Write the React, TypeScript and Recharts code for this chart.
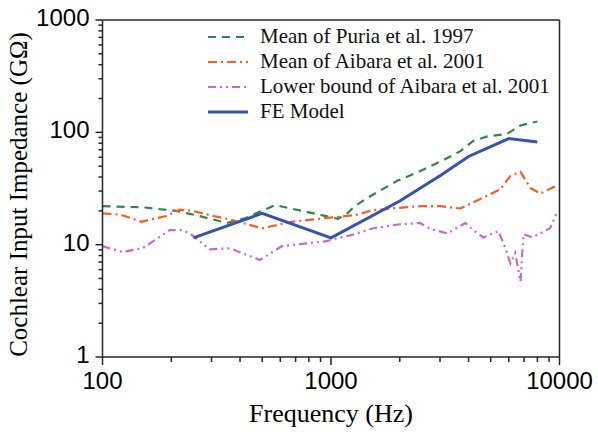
import { LineChart, Line, XAxis, YAxis, ReferenceLine, Legend } from 'recharts';

// frequency (Hz) / impedance (GΩ)
const puriaFreq = [100, 150, 210, 265, 350, 420, 570, 790, 1070, 1170, 1270, 1440, 1950, 2450, 3230, 3680, 4200, 4830, 5900, 6750, 8000];
const puriaVal = [22, 21.5, 20, 18, 15.6, 17.2, 22.5, 19.5, 17, 18.7, 22, 26, 37, 45, 59, 68, 84, 92, 97, 115, 125];

const aibaraFreq = [100, 120, 148, 190, 218, 248, 305, 350, 500, 675, 940, 1270, 1530, 2150, 2530, 3000, 3680, 4500, 5500, 6100, 6750, 7450, 8250, 9400, 9700];
const aibaraVal = [19, 18.5, 16, 18, 20.5, 20, 18, 17, 14, 16, 17.2, 18.3, 20.3, 21.6, 22.1, 22, 21, 25.5, 31, 41, 44.5, 32, 28.5, 32.5, 33];

const lowerFreq = [100, 122, 150, 197, 224, 241, 294, 361, 488, 610, 940, 1270, 1530, 2000, 2450, 2720, 3230, 3870, 4370, 4650, 5400, 5800, 6100, 6400, 6750, 6950, 7600, 9100, 9700];
const lowerVal = [9.7, 8.6, 9.3, 13.5, 13.5, 12.6, 9.1, 9.3, 7.3, 9.7, 10.7, 12.4, 14, 15.2, 15.6, 13.8, 12.6, 15.6, 12.6, 11.6, 13.2, 9.3, 6.8, 8.4, 4.7, 12.4, 11.6, 14, 19];

const feFreq = [250, 500, 1000, 2000, 3000, 4000, 6000, 8000];
const feVal = [11.5, 19, 11.5, 24.5, 41, 61, 88, 82];

const xTicks = [100, 200, 300, 400, 500, 600, 700, 800, 900, 1000, 2000, 3000, 4000, 5000, 6000, 7000, 8000, 9000, 10000];
const xMajor = [100, 1000, 10000];
const yTicks = [1, 2, 3, 4, 5, 6, 7, 8, 9, 10, 20, 30, 40, 50, 60, 70, 80, 90, 100, 200, 300, 400, 500, 600, 700, 800, 900, 1000];
const yMajor = [1, 10, 100, 1000];

const seriesNames = ['Mean of Puria et al. 1997', 'Mean of Aibara et al. 2001', 'Lower bound of Aibara et al. 2001', 'FE Model'];

const toRows = (f: number[], v: number[]) => f.map((x, i) => ({ f: x, v: v[i] }));

const styles = [
  { color: '#2b8a45', dash: '8 6', width: 2.2 },
  { color: '#ff5b22', dash: '9 4 2 4', width: 2.2 },
  { color: '#c96ac9', dash: '8 4 2 4 2 4', width: 2.2 },
  { color: '#3553b3', dash: undefined, width: 3 },
];

const AXIS = '#262626';
const sans = '"Liberation Sans", Arial, sans-serif';
const serif = '"Liberation Serif", "Times New Roman", serif';

function XTick({ x, y, payload }: any) {
  const major = xMajor.includes(payload.value);
  return (
    <g>
      <line x1={x} x2={x} y1={y} y2={y + (major ? 8 : 5)} stroke={AXIS} strokeWidth={1.5} />
      {major && (
        <text x={x} y={y + 32} textAnchor="middle" fontSize={24} fontFamily={sans} fill="#000">
          {payload.value}
        </text>
      )}
    </g>
  );
}

function YTick({ x, y, payload }: any) {
  const major = yMajor.includes(payload.value);
  return (
    <g>
      <line x1={x - (major ? 7 : 4)} x2={x} y1={y} y2={y} stroke={AXIS} strokeWidth={1.5} />
      {major && (
        <text x={x - 13} y={y + 6} textAnchor="end" fontSize={24} fontFamily={sans} fill="#000">
          {payload.value}
        </text>
      )}
    </g>
  );
}

function renderLegend() {
  return (
    <div style={{ fontFamily: serif, fontSize: 21, color: '#111' }}>
      {seriesNames.map((name, i) => (
        <div key={name} style={{ display: 'flex', alignItems: 'center', height: 25 }}>
          <svg width={40} height={10} style={{ marginRight: 12 }}>
            <line x1={0} x2={40} y1={5} y2={5} stroke={styles[i].color} strokeWidth={styles[i].width} strokeDasharray={styles[i].dash} />
          </svg>
          <span style={{ whiteSpace: 'nowrap' }}>{name}</span>
        </div>
      ))}
    </div>
  );
}

export default function App() {
  const series = [
    toRows(puriaFreq, puriaVal),
    toRows(aibaraFreq, aibaraVal),
    toRows(lowerFreq, lowerVal),
    toRows(feFreq, feVal),
  ];

  return (
    <div style={{ position: 'absolute', left: 0, top: 0, background: '#fff' }}>
      <LineChart width={598} height={435} margin={{ top: 20, right: 38.5, bottom: 38, left: 2.5 }}>
        <XAxis
          dataKey="f"
          type="number"
          scale="log"
          domain={[100, 10000]}
          allowDataOverflow
          ticks={xTicks}
          interval={0}
          tickSize={0}
          tickMargin={0}
          tickLine={false}
          tick={<XTick />}
          height={40}
          stroke={AXIS}
          strokeWidth={1.5}
          label={{
            content: ({ viewBox }: any) => (
              <text x={viewBox.x + viewBox.width / 2} y={viewBox.y + 65} textAnchor="middle" fontSize={26} fontFamily={serif} fill="#000">
                Frequency (Hz)
              </text>
            ),
          }}
        />
        <YAxis
          dataKey="v"
          type="number"
          scale="log"
          domain={[1, 1000]}
          allowDataOverflow
          ticks={yTicks}
          interval={0}
          tickSize={0}
          tickMargin={0}
          tickLine={false}
          tick={<YTick />}
          width={100}
          stroke={AXIS}
          strokeWidth={1.5}
          label={{
            content: ({ viewBox }: any) => (
              <text
                transform={`translate(27, ${viewBox.y + viewBox.height / 2 + 6}) rotate(-90)`}
                textAnchor="middle"
                fontSize={25}
                fontFamily={serif}
                fill="#000"
              >
                Cochlear Input Impedance (GΩ)
              </text>
            ),
          }}
        />
        <ReferenceLine y={1000} stroke={AXIS} strokeWidth={1.5} />
        <ReferenceLine x={10000} stroke={AXIS} strokeWidth={1.5} />
        <Legend
          layout="vertical"
          align="center"
          verticalAlign="middle"
          content={renderLegend}
          wrapperStyle={{ left: 208, top: 24, width: 350 }}
        />
        {series.map((rows, i) => (
          <Line
            key={seriesNames[i]}
            data={rows}
            dataKey="v"
            name={seriesNames[i]}
            type="linear"
            stroke={styles[i].color}
            strokeWidth={styles[i].width}
            strokeDasharray={styles[i].dash}
            dot={false}
            activeDot={false}
            isAnimationActive={false}
          />
        ))}
      </LineChart>
    </div>
  );
}
